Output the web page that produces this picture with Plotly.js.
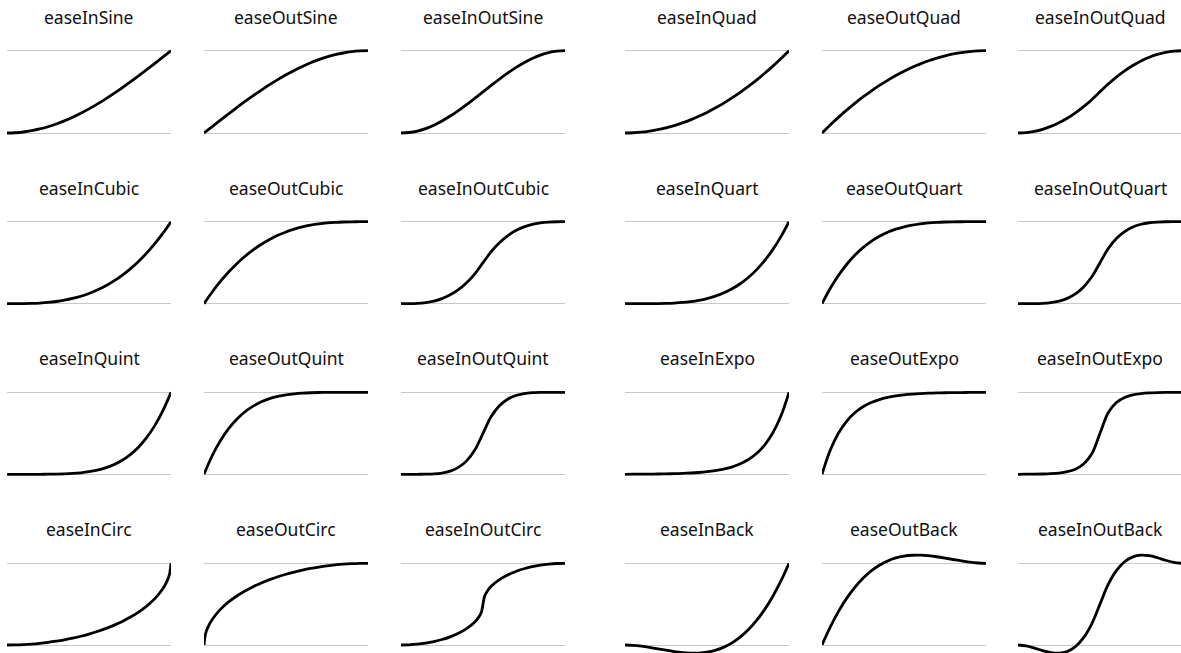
<!DOCTYPE html>
<html><head><meta charset="utf-8">
<script src="https://cdn.plot.ly/plotly-3.0.1.min.js"></script>
<style>html,body{margin:0;padding:0;background:#fff}#chart{width:1181px;height:653px}</style>
</head><body><div id="chart"></div>
<script>
const names = ["easeInSine","easeOutSine","easeInOutSine","easeInQuad","easeOutQuad","easeInOutQuad",
"easeInCubic","easeOutCubic","easeInOutCubic","easeInQuart","easeOutQuart","easeInOutQuart",
"easeInQuint","easeOutQuint","easeInOutQuint","easeInExpo","easeOutExpo","easeInOutExpo",
"easeInCirc","easeOutCirc","easeInOutCirc","easeInBack","easeOutBack","easeInOutBack"];

const xs = [0,0.05,0.1,0.15,0.2,0.25,0.3,0.35,0.4,0.45,0.5,0.55,0.6,0.65,0.7,0.75,0.8,0.85,0.9,0.95,1];
const xsInCirc = [0,0.05,0.1,0.15,0.2,0.25,0.3,0.35,0.4,0.45,0.5,0.55,0.6,0.65,0.7,0.75,0.8,0.85,0.9,0.95,0.975,0.99,1];
const xsOutCirc = [0,0.01,0.025,0.05,0.1,0.15,0.2,0.25,0.3,0.35,0.4,0.45,0.5,0.55,0.6,0.65,0.7,0.75,0.8,0.85,0.9,0.95,1];
const xsInOutCirc = [0,0.05,0.1,0.15,0.2,0.25,0.3,0.35,0.4,0.45,0.475,0.49,0.5,0.51,0.525,0.55,0.6,0.65,0.7,0.75,0.8,0.85,0.9,0.95,1];

const easeInSine = [0,0.003,0.012,0.028,0.049,0.076,0.109,0.147,0.191,0.240,0.293,0.351,0.412,0.478,0.546,0.617,0.691,0.767,0.844,0.922,1];
const easeOutSine = [0,0.078,0.156,0.233,0.309,0.383,0.454,0.522,0.588,0.649,0.707,0.760,0.809,0.853,0.891,0.924,0.951,0.972,0.988,0.997,1];
const easeInOutSine = [0,0.006,0.024,0.054,0.095,0.146,0.206,0.273,0.345,0.422,0.5,0.578,0.655,0.727,0.794,0.854,0.905,0.946,0.976,0.994,1];
const easeInQuad = [0,0.003,0.010,0.023,0.040,0.063,0.090,0.123,0.160,0.203,0.250,0.303,0.360,0.423,0.490,0.563,0.640,0.723,0.810,0.903,1];
const easeOutQuad = [0,0.098,0.190,0.278,0.360,0.438,0.510,0.578,0.640,0.698,0.750,0.798,0.840,0.878,0.910,0.938,0.960,0.978,0.990,0.998,1];
const easeInOutQuad = [0,0.005,0.020,0.045,0.080,0.125,0.180,0.245,0.320,0.405,0.5,0.595,0.680,0.755,0.820,0.875,0.920,0.955,0.980,0.995,1];
const easeInCubic = [0,0.0001,0.001,0.0034,0.008,0.0156,0.027,0.0429,0.064,0.0911,0.125,0.1664,0.216,0.2746,0.343,0.4219,0.512,0.6141,0.729,0.8574,1];
const easeOutCubic = [0,0.1426,0.271,0.3859,0.488,0.5781,0.657,0.7254,0.784,0.8336,0.875,0.9089,0.936,0.9571,0.973,0.9844,0.992,0.9966,0.999,0.9999,1];
const easeInOutCubic = [0,0.0005,0.004,0.0135,0.032,0.0625,0.108,0.1715,0.256,0.3645,0.5,0.6355,0.744,0.8285,0.892,0.9375,0.968,0.9865,0.996,0.9995,1];
const easeInQuart = [0,0,0.0001,0.0005,0.0016,0.0039,0.0081,0.015,0.0256,0.041,0.0625,0.0915,0.1296,0.1785,0.2401,0.3164,0.4096,0.522,0.6561,0.8145,1];
const easeOutQuart = [0,0.1855,0.3439,0.478,0.5904,0.6836,0.7599,0.8215,0.8704,0.9085,0.9375,0.959,0.9744,0.985,0.9919,0.9961,0.9984,0.9995,0.9999,1,1];
const easeInOutQuart = [0,0.0001,0.0008,0.004,0.0128,0.0313,0.0648,0.12,0.2048,0.328,0.5,0.672,0.7952,0.88,0.9352,0.9688,0.9872,0.996,0.9992,0.9999,1];
const easeInQuint = [0,0,0,0.0001,0.0003,0.001,0.0024,0.0053,0.0102,0.0185,0.0313,0.0503,0.0778,0.116,0.1681,0.2373,0.3277,0.4437,0.5905,0.7738,1];
const easeOutQuint = [0,0.2262,0.4095,0.5563,0.6723,0.7627,0.8319,0.884,0.9222,0.9497,0.9688,0.9815,0.9898,0.9947,0.9976,0.999,0.9997,0.9999,1,1,1];
const easeInOutQuint = [0,0,0.0002,0.0012,0.0051,0.0156,0.0389,0.084,0.1638,0.2952,0.5,0.7048,0.8362,0.916,0.9611,0.9844,0.9949,0.9988,0.9998,1,1];
const easeInExpo = [0,0.0014,0.002,0.0028,0.0039,0.0055,0.0078,0.011,0.0156,0.0221,0.0313,0.0442,0.0625,0.0884,0.125,0.1768,0.25,0.3536,0.5,0.7071,1];
const easeOutExpo = [0,0.2929,0.5,0.6464,0.75,0.8232,0.875,0.9116,0.9375,0.9558,0.9688,0.9779,0.9844,0.989,0.9922,0.9945,0.9961,0.9972,0.998,0.9986,1];
const easeInOutExpo = [0,0.001,0.002,0.0039,0.0078,0.0156,0.0313,0.0625,0.125,0.25,0.5,0.75,0.875,0.9375,0.9688,0.9844,0.9922,0.9961,0.998,0.999,1];
const easeInCirc = [0,0.0013,0.005,0.0113,0.0202,0.0318,0.0461,0.0633,0.0835,0.107,0.134,0.1648,0.2,0.2401,0.2859,0.3386,0.4,0.4732,0.5641,0.6878,0.7778,0.8589,1];
const easeOutCirc = [0,0.1411,0.2222,0.3122,0.4359,0.5268,0.6,0.6614,0.7141,0.7599,0.8,0.8352,0.866,0.893,0.9165,0.9368,0.9539,0.9682,0.9798,0.9887,0.995,0.9987,1];
const easeInOutCirc = [0,0.0025,0.0101,0.0231,0.0417,0.067,0.1,0.1429,0.2,0.2821,0.3439,0.4005,0.5,0.5995,0.6561,0.7179,0.8,0.8571,0.9,0.933,0.9583,0.9769,0.9899,0.9975,1];
const easeInBack = [0,-0.0039,-0.0143,-0.0292,-0.0465,-0.0641,-0.0802,-0.0926,-0.0994,-0.0984,-0.0877,-0.0653,-0.029,0.023,0.0929,0.1826,0.2942,0.4297,0.5912,0.7806,1];
const easeOutBack = [0,0.2194,0.4088,0.5703,0.7058,0.8174,0.9071,0.977,1.029,1.0653,1.0877,1.0984,1.0994,1.0926,1.0802,1.0641,1.0465,1.0292,1.0143,1.0039,1];
const easeInOutBack = [0,-0.0112,-0.0375,-0.0682,-0.0926,-0.0997,-0.0788,-0.0192,0.0899,0.2594,0.5,0.7406,0.9101,1.0192,1.0788,1.0997,1.0926,1.0682,1.0375,1.0112,1];

const series = [
  [xs,easeInSine],[xs,easeOutSine],[xs,easeInOutSine],[xs,easeInQuad],[xs,easeOutQuad],[xs,easeInOutQuad],
  [xs,easeInCubic],[xs,easeOutCubic],[xs,easeInOutCubic],[xs,easeInQuart],[xs,easeOutQuart],[xs,easeInOutQuart],
  [xs,easeInQuint],[xs,easeOutQuint],[xs,easeInOutQuint],[xs,easeInExpo],[xs,easeOutExpo],[xs,easeInOutExpo],
  [xsInCirc,easeInCirc],[xsOutCirc,easeOutCirc],[xsInOutCirc,easeInOutCirc],[xs,easeInBack],[xs,easeOutBack],[xs,easeInOutBack]
];

const W = 1181, H = 653;
const colL = [7,204,401,625,822,1018], colW = 164;
const rowT = [50.7,221.7,392.3,563.3], rowB = [133,303.7,474.3,645];
const pad = 14, titleOff = 34;

const traces = [];
const layout = {
  width: W, height: H, margin: {l:0,r:0,t:0,b:0},
  paper_bgcolor: '#fff', plot_bgcolor: '#fff',
  showlegend: false, annotations: []
};

for (let r = 0; r < 4; r++) {
  for (let c = 0; c < 6; c++) {
    const i = r*6 + c;
    const s = i === 0 ? '' : String(i+1);
    const x0 = colL[c], x1 = Math.min(colL[c]+colW, W);
    const h = rowB[r] - rowT[r];
    const pt = rowT[r] - pad, pb = Math.min(rowB[r] + pad, H);
    layout['xaxis'+s] = {
      domain: [x0/W, x1/W], range: [0, (x1-x0)/colW], anchor: 'y'+s,
      showgrid: false, zeroline: false, showline: false, showticklabels: false, ticks: '', fixedrange: true
    };
    layout['yaxis'+s] = {
      domain: [1-pb/H, 1-pt/H], range: [-(pb-rowB[r])/h, 1+(rowT[r]-pt)/h], anchor: 'x'+s,
      tickmode: 'array', tickvals: [0,1], showgrid: true, gridcolor: '#c8c8c8', gridwidth: 1,
      zeroline: false, showline: false, showticklabels: false, ticks: '', fixedrange: true
    };
    traces.push({
      x: series[i][0], y: series[i][1], xaxis: 'x'+s, yaxis: 'y'+s,
      type: 'scatter', mode: 'lines', hoverinfo: 'skip',
      line: {color: '#000', width: 2.8, shape: 'spline', smoothing: 1}
    });
    layout.annotations.push({
      text: names[i], xref: 'paper', yref: 'paper',
      x: (colL[c] + colW/2)/W, y: 1 - (rowT[r]-titleOff)/H,
      xanchor: 'center', yanchor: 'middle', showarrow: false,
      font: {family: 'Noto Sans', size: 17.5, color: '#111'}
    });
  }
}

Plotly.newPlot('chart', traces, layout, {staticPlot: true, displayModeBar: false});
</script>
</body></html>
